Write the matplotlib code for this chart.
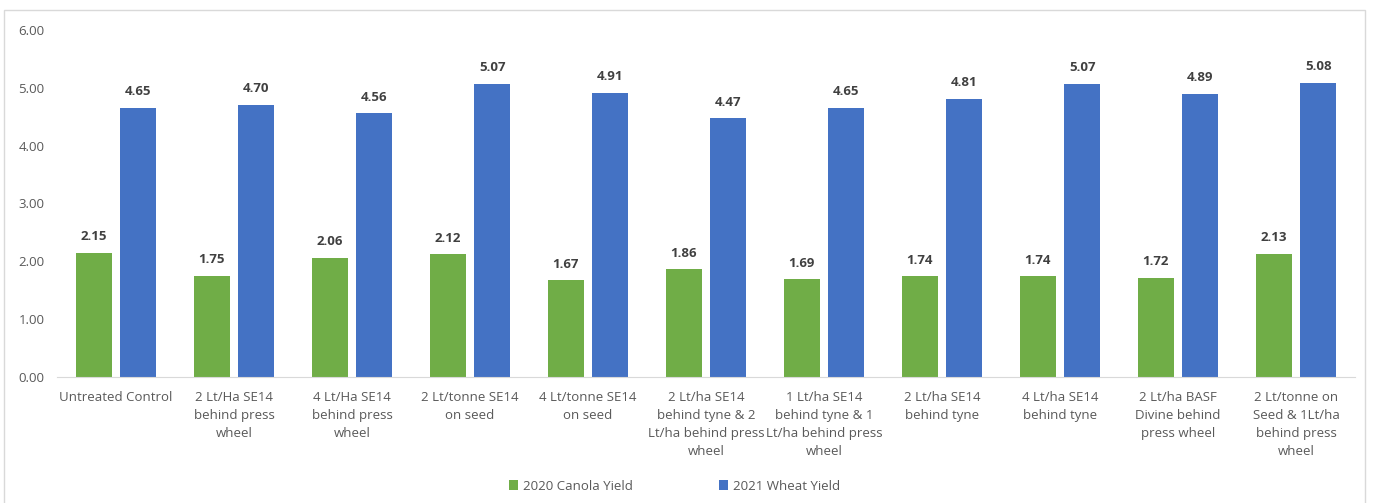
import numpy as np
import matplotlib.pyplot as plt
from matplotlib.patches import Rectangle

treatments = [
    "Untreated Control",
    "2 Lt/Ha SE14\nbehind press\nwheel",
    "4 Lt/Ha SE14\nbehind press\nwheel",
    "2 Lt/tonne SE14\non seed",
    "4 Lt/tonne SE14\non seed",
    "2 Lt/ha SE14\nbehind tyne & 2\nLt/ha behind press\nwheel",
    "1 Lt/ha SE14\nbehind tyne & 1\nLt/ha behind press\nwheel",
    "2 Lt/ha SE14\nbehind tyne",
    "4 Lt/ha SE14\nbehind tyne",
    "2 Lt/ha BASF\nDivine behind\npress wheel",
    "2 Lt/tonne on\nSeed & 1Lt/ha\nbehind press\nwheel",
]
canola_2020 = [2.15, 1.75, 2.06, 2.12, 1.67, 1.86, 1.69, 1.74, 1.74, 1.72, 2.13]
wheat_2021 = [4.65, 4.70, 4.56, 5.07, 4.91, 4.47, 4.65, 4.81, 5.07, 4.89, 5.08]
y_ticks = [0, 1, 2, 3, 4, 5, 6]

GREEN = "#70AD47"
BLUE = "#4472C4"
TEXT = "#595959"
LABEL = "#404040"

plt.rcParams['font.family'] = ['Open Sans', 'DejaVu Sans']

fig = plt.figure(figsize=(13.75, 5.03), dpi=100)

# chart-area border
fig.patches.append(Rectangle((4 / 1375, -0.01), 1361 / 1375, 1 - 10 / 503 + 0.01,
                             transform=fig.transFigure, fill=False,
                             edgecolor="#d9d9d9", linewidth=1))

ax = fig.add_axes([57 / 1375, 126 / 503, 1298 / 1375, 347 / 503])

x = np.arange(len(treatments))
w = 0.305
off = 0.19
b1 = ax.bar(x - off, canola_2020, w, color=GREEN, label="2020 Canola Yield")
b2 = ax.bar(x + off, wheat_2021, w, color=BLUE, label="2021 Wheat Yield")

for bars, vals in ((b1, canola_2020), (b2, wheat_2021)):
    for r, v in zip(bars, vals):
        ax.annotate(f"{v:.2f}", (r.get_x() + r.get_width() / 2, v),
                    xytext=(0, 7), textcoords="offset points",
                    ha="center", va="bottom", fontsize=9.5,
                    fontweight="bold", color=LABEL)

ax.set_xlim(-0.5, len(treatments) - 0.5)
ax.set_ylim(0, 6)
ax.set_yticks(y_ticks)
ax.set_yticklabels([f"{t:.2f}" for t in y_ticks], fontsize=9.5, color=TEXT)
ax.set_xticks(x)
ax.set_xticklabels(treatments, fontsize=9.5, color=TEXT, linespacing=1.5)
ax.tick_params(axis="both", length=0)
ax.tick_params(axis="y", pad=9)
ax.tick_params(axis="x", pad=10)

for s in ("top", "right", "left"):
    ax.spines[s].set_visible(False)
ax.spines["bottom"].set_color("#d9d9d9")

fig.legend(handles=[b1, b2], loc="center", bbox_to_anchor=(0.4905, 17 / 503),
           ncol=2, frameon=False, fontsize=9.5, handlelength=0.7,
           handleheight=0.7, columnspacing=6.5, handletextpad=0.4,
           labelcolor=TEXT)

fig.savefig("out.png", dpi=100)
